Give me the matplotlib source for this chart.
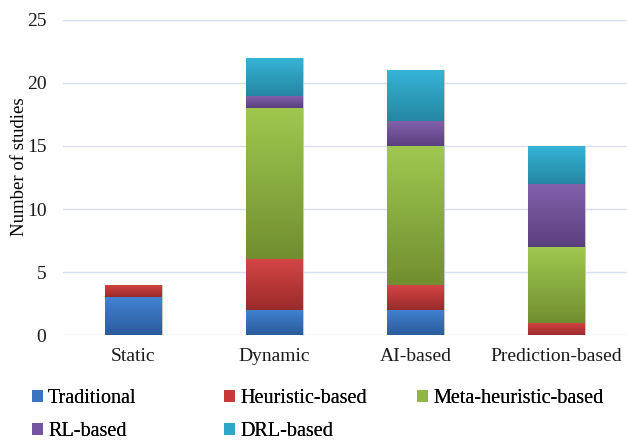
import numpy as np
import matplotlib.pyplot as plt
from matplotlib.colors import LinearSegmentedColormap
from matplotlib.patches import Patch

plt.rcParams['font.family'] = 'serif'
plt.rcParams['font.serif'] = ['Liberation Serif', 'Times New Roman', 'DejaVu Serif']

categories = ['Static', 'Dynamic', 'AI-based', 'Prediction-based']
series = ['Traditional', 'Heuristic-based', 'Meta-heuristic-based', 'RL-based', 'DRL-based']
traditional = [3, 2, 2, 0]
heuristic = [1, 4, 2, 1]
meta_heuristic = [0, 12, 11, 6]
rl = [0, 1, 2, 5]
drl = [0, 3, 4, 3]
values = [traditional, heuristic, meta_heuristic, rl, drl]

# (top, bottom) shades for each series gradient
shades = [('#4283d3', '#2b5b9c'),
          ('#d64545', '#992b2b'),
          ('#a0c84f', '#718e30'),
          ('#8462ac', '#5a3f7e'),
          ('#35b4d6', '#2586a3')]
legend_colors = ['#3a74c0', '#c93838', '#8fb545', '#7554a0', '#2ea6c8']

fig = plt.figure(figsize=(6.27, 4.41), dpi=100)
ax = fig.add_axes([0.1005, 0.240, 0.8995, 0.715])

x = np.arange(len(categories))
width = 0.40
bottom = np.zeros(len(categories))
grad = np.linspace(1, 0, 256).reshape(-1, 1)

for vals, (top_c, bot_c) in zip(values, shades):
    vals = np.array(vals, dtype=float)
    bars = ax.bar(x, vals, width, bottom=bottom, color='none', edgecolor='none', zorder=3)
    cmap = LinearSegmentedColormap.from_list('g', [bot_c, top_c])
    for b, v in zip(bars, vals):
        if v == 0:
            continue
        x0, y0 = b.get_x(), b.get_y()
        im = ax.imshow(grad, cmap=cmap, aspect='auto', origin='upper',
                       extent=[x0, x0 + b.get_width(), y0, y0 + b.get_height()],
                       zorder=3, vmin=0, vmax=1)
        im.set_clip_path(b)
    bottom += vals

# faint shadow around each stacked column
for xi, total in zip(x, bottom):
    ax.bar(xi, total, width, color='none', edgecolor='#c8c8c8', linewidth=0.8, zorder=2)

ax.set_xlim(-0.5, len(categories) - 0.5)
ax.set_ylim(0, 25)
ax.set_yticks(np.arange(0, 26, 5))
ax.set_xticks(x)
ax.set_xticklabels(categories)
ax.yaxis.grid(True, color='#d5dfee', linewidth=1.0, zorder=0)
ax.set_axisbelow(True)
for s in ax.spines.values():
    s.set_visible(False)
ax.tick_params(axis='both', length=0, labelsize=14, colors='#1a1a1a')
ax.tick_params(axis='y', pad=12)
ax.tick_params(axis='x', pad=9)
ax.set_ylabel('Number of studies', fontsize=13.5)
ax.yaxis.set_label_coords(-0.062, 0.535)

# one legend per column so the columns sit at even spacing
columns = [[0, 3], [1, 4], [2]]
col_x = [32 / 627, 224 / 627, 417 / 627]
for idx, cx in zip(columns, col_x):
    handles = [Patch(facecolor=legend_colors[i], edgecolor='none', label=series[i]) for i in idx]
    leg = fig.legend(handles=handles, loc='upper left', bbox_to_anchor=(cx, 1 - 389 / 441),
                     frameon=False, fontsize=14.5, handlelength=0.55, handleheight=0.55,
                     handletextpad=0.25, labelspacing=0.72, borderpad=0, borderaxespad=0)
    fig.add_artist(leg)

fig.savefig('out.png', dpi=100)
